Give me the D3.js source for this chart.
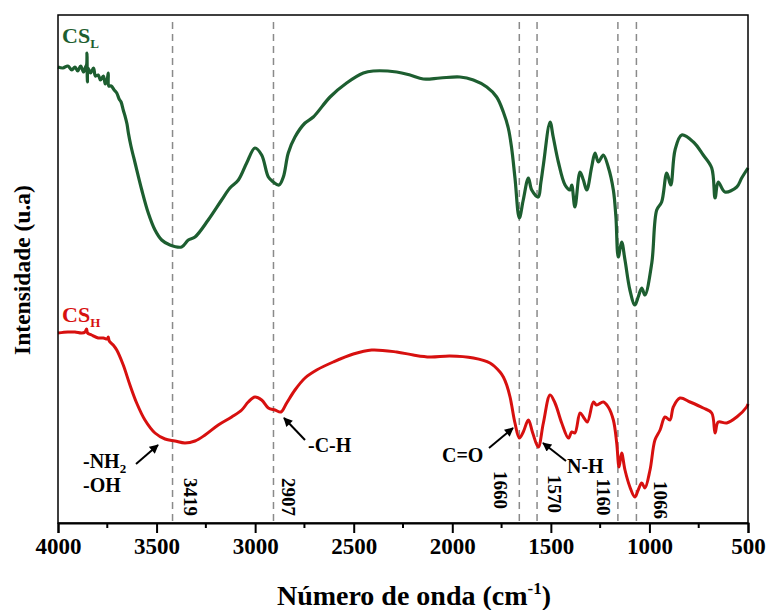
<!DOCTYPE html>
<html>
<head>
<meta charset="utf-8">
<script src="https://cdn.jsdelivr.net/npm/d3@7"></script>
<style>
  body { margin: 0; background: #fff; }
  svg text { font-family: "Liberation Serif", "Times New Roman", serif; font-weight: bold; }
</style>
</head>
<body>
<div id="chart"></div>
<script>
// FTIR spectra, [wavenumber (cm-1), intensity (a.u.)]
const csL = [
  [4000,456],[3975,455],[3950,457],[3930,453],[3914,456],[3900,452],[3885,457],[3870,451],
  [3860,456],[3855,458],[3853,470],[3851,441],[3848,455],[3835,450],[3820,455],[3810,447],
  [3796,448],[3785,443],[3770,447],[3760,439],[3750,444],[3745,450],[3742,437],[3730,437],
  [3715,433],[3702,430],[3690,424],[3680,421],[3669,413],[3660,407],[3650,399],[3643,390],
  [3630,377],[3609,360],[3575,333],[3542,310],[3508,293],[3474,283],[3432,278],[3373,276],
  [3339,283],[3305,286],[3238,303],[3170,323],[3128,335],[3085,343],[3043,360],[3001,375],
  [2967,368],[2933,346],[2908,341],[2879,338],[2857,346],[2832,370],[2798,386],[2747,400],
  [2705,406],[2620,426],[2536,440],[2451,450],[2401,452],[2282,451],[2214,448],[2147,444],
  [2062,445],[1961,446],[1893,443],[1825,436],[1775,426],[1741,411],[1716,395],[1699,375],
  [1682,345],[1660,305],[1640,323],[1614,345],[1597,333],[1564,326],[1551,340],[1538,358],
  [1504,401],[1488,386],[1462,361],[1428,338],[1403,333],[1394,338],[1378,316],[1352,351],
  [1335,343],[1318,333],[1293,356],[1276,370],[1259,361],[1234,368],[1209,356],[1183,333],
  [1170,306],[1158,266],[1141,281],[1124,263],[1099,233],[1074,218],[1057,226],[1039,235],
  [1023,228],[988,260],[963,313],[938,321],[912,350],[892,338],[870,373],[836,388],
  [777,381],[727,368],[684,355],[667,325],[651,341],[617,331],[557,336],[532,345],[500,355]
];

const csH = [
  [4000,190],[3950,191],[3914,191],[3880,190],[3863,191],[3855,194],[3850,190],[3830,188],
  [3796,185],[3770,185],[3750,184],[3745,186],[3740,182],[3720,178],[3702,173],[3669,158],
  [3635,138],[3601,120],[3559,103],[3508,90],[3457,84],[3407,82],[3356,80],[3305,82],
  [3254,88],[3187,98],[3119,106],[3068,113],[3035,121],[3001,126],[2967,123],[2933,115],
  [2899,113],[2869,111],[2840,120],[2798,133],[2747,145],[2688,153],[2604,161],[2502,169],
  [2409,173],[2282,171],[2198,168],[2113,166],[2012,167],[1893,165],[1809,160],[1758,151],
  [1741,146],[1724,138],[1707,126],[1699,118],[1682,100],[1660,85],[1640,91],[1614,103],
  [1592,90],[1564,76],[1538,100],[1504,128],[1479,120],[1445,100],[1411,85],[1394,91],
  [1378,90],[1352,110],[1335,106],[1315,101],[1284,121],[1268,118],[1234,121],[1209,116],
  [1183,103],[1166,80],[1154,56],[1141,70],[1124,53],[1099,36],[1074,26],[1057,33],
  [1039,40],[1023,35],[997,53],[972,83],[946,93],[921,106],[896,103],[879,116],
  [845,125],[794,121],[727,115],[684,110],[667,90],[651,101],[608,100],[557,106],
  [507,116],[500,119]
];

const peaks = [3419, 2907, 1660, 1570, 1160, 1066];
const peakLabels = ["3419", "2907", "1660", "1570", "1160", "1066"];
const xTicks = [4000, 3500, 3000, 2500, 2000, 1500, 1000, 500];

const width = 768, height = 610;
const margin = { top: 15, right: 20, bottom: 87, left: 58 };
const green = "#1d5e30", red = "#d7100f";

const svg = d3.select("#chart").append("svg")
  .attr("width", width).attr("height", height);

const x = d3.scaleLinear().domain([4000, 500]).range([margin.left, width - margin.right]);
const y = d3.scaleLinear().domain([0, 508]).range([height - margin.bottom, margin.top]);

svg.append("defs").append("marker")
  .attr("id", "arrow")
  .attr("viewBox", "0 0 10 10")
  .attr("refX", 9).attr("refY", 5)
  .attr("markerWidth", 10).attr("markerHeight", 9)
  .attr("markerUnits", "userSpaceOnUse")
  .attr("orient", "auto")
  .append("path").attr("d", "M0,0L10,5L0,10z").attr("fill", "#000");

// peak guides
svg.append("g").selectAll("line").data(peaks).join("line")
  .attr("x1", d => x(d)).attr("x2", d => x(d))
  .attr("y1", margin.top + 7).attr("y2", height - margin.bottom)
  .attr("stroke", "#8a8a8a").attr("stroke-width", 1.5)
  .attr("stroke-dasharray", "7,5");

const line = d3.line().x(d => x(d[0])).y(d => y(d[1])).curve(d3.curveCatmullRom.alpha(0.5));

svg.append("path").datum(csL)
  .attr("fill", "none").attr("stroke", green).attr("stroke-width", 3.2)
  .attr("stroke-linejoin", "round").attr("d", line);

svg.append("path").datum(csH)
  .attr("fill", "none").attr("stroke", red).attr("stroke-width", 3)
  .attr("stroke-linejoin", "round").attr("d", line);

// frame
svg.append("rect")
  .attr("x", margin.left).attr("y", margin.top)
  .attr("width", width - margin.left - margin.right)
  .attr("height", height - margin.top - margin.bottom)
  .attr("fill", "none").attr("stroke", "#000").attr("stroke-width", 1.5);

// x axis
const xAxis = svg.append("g")
  .attr("transform", `translate(0,${height - margin.bottom})`)
  .call(d3.axisBottom(x).tickValues(xTicks).tickSize(10).tickPadding(5).tickFormat(d3.format("d")));
xAxis.select(".domain").attr("stroke-width", 2);
xAxis.selectAll(".tick line").attr("stroke-width", 2);
xAxis.selectAll(".tick text").attr("font-size", 23).attr("fill", "#000")
  .style("font-family", "'Liberation Serif', serif").style("font-weight", "bold");

svg.append("g")
  .attr("transform", `translate(0,${height - margin.bottom})`)
  .selectAll("line").data(d3.range(3750, 500, -500)).join("line")
  .attr("x1", d => x(d)).attr("x2", d => x(d))
  .attr("y1", 0).attr("y2", 5)
  .attr("stroke", "#000").attr("stroke-width", 2);

// axis titles
const xt = svg.append("text")
  .attr("x", 414).attr("y", 605)
  .attr("text-anchor", "middle").attr("font-size", 28);
xt.append("tspan").text("Número de onda (cm");
xt.append("tspan").attr("font-size", 17).attr("dy", -11).text("-1");
xt.append("tspan").attr("dy", 11).text(")");

svg.append("text")
  .attr("transform", "translate(30,270) rotate(-90)")
  .attr("text-anchor", "middle").attr("font-size", 23.5)
  .text("Intensidade (u.a)");

// series labels
const lL = svg.append("text").attr("x", 62).attr("y", 43).attr("fill", green).attr("font-size", 22);
lL.append("tspan").text("CS");
lL.append("tspan").attr("font-size", 13).attr("dy", 5).text("L");

const lH = svg.append("text").attr("x", 62).attr("y", 322).attr("fill", red).attr("font-size", 22);
lH.append("tspan").text("CS");
lH.append("tspan").attr("font-size", 13).attr("dy", 5).text("H");

// rotated peak numbers
const labelPos = [[190, 497], [288, 497], [500, 490], [554, 494], [603, 497], [660, 500]];
svg.append("g").selectAll("text").data(peakLabels).join("text")
  .attr("transform", (d, i) => `translate(${labelPos[i][0]},${labelPos[i][1]}) rotate(90)`)
  .attr("text-anchor", "middle").attr("dominant-baseline", "central")
  .attr("font-size", 19).text(d => d);

// group annotations
const nh2 = svg.append("text").attr("x", 83).attr("y", 468).attr("font-size", 20);
nh2.append("tspan").text("-NH");
nh2.append("tspan").attr("font-size", 13).attr("dy", 5).text("2");
svg.append("text").attr("x", 83).attr("y", 492).attr("font-size", 20).text("-OH");
svg.append("text").attr("x", 308).attr("y", 452).attr("font-size", 20).text("-C-H");
svg.append("text").attr("x", 442).attr("y", 462).attr("font-size", 20).text("C=O");
svg.append("text").attr("x", 567).attr("y", 473).attr("font-size", 20).text("N-H");

const arrows = [
  [136, 464, 158, 445],
  [305, 440, 284, 418],
  [489, 448, 513, 428],
  [566, 461, 543, 443]
];
svg.append("g").selectAll("line").data(arrows).join("line")
  .attr("x1", d => d[0]).attr("y1", d => d[1])
  .attr("x2", d => d[2]).attr("y2", d => d[3])
  .attr("stroke", "#000").attr("stroke-width", 2)
  .attr("marker-end", "url(#arrow)");
</script>
</body>
</html>
